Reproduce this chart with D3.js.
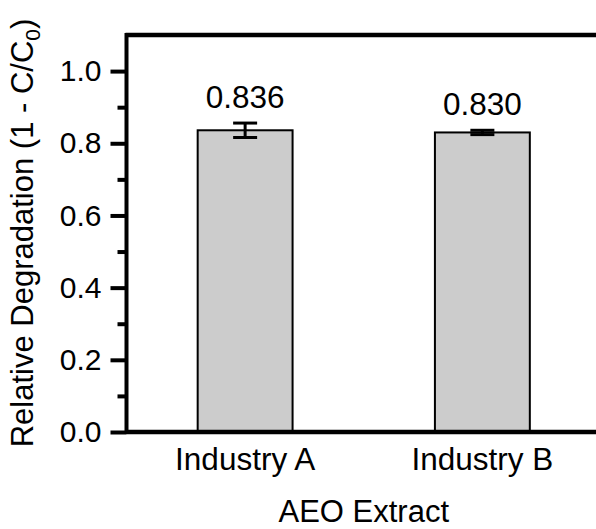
<!DOCTYPE html>
<html><head><meta charset="utf-8">
<script src="https://cdn.jsdelivr.net/npm/d3@7"></script>
<style>body{margin:0;background:#fff}svg{display:block}text{font-family:"Liberation Sans",Arial,sans-serif;fill:#000}</style>
</head><body>
<svg id="c" width="596" height="529"></svg>
<script>
const categories = ["Industry A", "Industry B"];
const values = [0.836, 0.830];
const errors = [0.020, 0.006];
const valueLabels = ["0.836", "0.830"];
const yTicks = [0.0, 0.2, 0.4, 0.6, 0.8, 1.0];
const yMinorTicks = [0.1, 0.3, 0.5, 0.7, 0.9];

const svg = d3.select("#c");
const L = 126.5, R = 601, T = 35, B = 432;
const x = d3.scaleBand().domain(categories).range([L, R]).paddingInner(0.6).paddingOuter(0.3);
const y = d3.scaleLinear().domain([0, 1.1]).range([B, T]);

// bars
svg.selectAll("rect.bar").data(values).join("rect")
  .attr("x", (d,i)=>x(categories[i]))
  .attr("y", d=>y(d))
  .attr("width", x.bandwidth())
  .attr("height", d=>B - y(d))
  .attr("fill", "#cccccc").attr("stroke", "#000").attr("stroke-width", 2);

// error bars
const eg = svg.append("g").attr("stroke", "#000").attr("stroke-width", 3);
values.forEach((v,i)=>{
  const cx = x(categories[i]) + x.bandwidth()/2;
  const e = errors[i];
  eg.append("line").attr("x1",cx).attr("x2",cx).attr("y1",y(v-e)).attr("y2",y(v+e));
  [v-e, v+e].forEach(t=>eg.append("line").attr("x1",cx-12).attr("x2",cx+12).attr("y1",y(t)).attr("y2",y(t)));
  svg.append("text").attr("x",cx).attr("y",y(v+e)-15.5).attr("text-anchor","middle")
    .attr("font-size",31.5).text(valueLabels[i]);
});

// y axis
const yAxis = d3.axisLeft(y).tickValues(yTicks).tickFormat(d3.format(".1f")).tickSize(16).tickPadding(9);
const ga = svg.append("g").attr("transform",`translate(${L},0)`).call(yAxis);
ga.select(".domain").remove();
ga.selectAll(".tick line").attr("stroke","#000").attr("stroke-width",4);
ga.selectAll(".tick text").attr("font-size",30).attr("font-family","Liberation Sans, Arial, sans-serif").attr("fill","#000");
const gm = svg.append("g").attr("transform",`translate(${L},0)`).call(d3.axisLeft(y).tickValues(yMinorTicks).tickSize(9).tickFormat(""));
gm.select(".domain").remove();
gm.selectAll(".tick line").attr("stroke","#000").attr("stroke-width",4);

// x axis
const gx = svg.append("g").attr("transform",`translate(0,${B})`).call(d3.axisBottom(x).tickSize(0).tickPadding(16));
gx.select(".domain").remove();
gx.selectAll(".tick text").attr("font-size",31.5).attr("font-family","Liberation Sans, Arial, sans-serif").attr("fill","#000").attr("dy","0.71em");

// frame lines
svg.append("line").attr("x1",L).attr("x2",R).attr("y1",B).attr("y2",B).attr("stroke","#000").attr("stroke-width",4.5);
svg.append("line").attr("x1",L-1).attr("x2",R).attr("y1",T).attr("y2",T).attr("stroke","#000").attr("stroke-width",4.5);
svg.append("line").attr("x1",L).attr("x2",L).attr("y1",T-2).attr("y2",B+2).attr("stroke","#000").attr("stroke-width",4);

// axis titles
svg.append("text").attr("x",(L+R)/2).attr("y",522).attr("text-anchor","middle").attr("font-size",31).text("AEO Extract");
const yt = svg.append("text").attr("transform","translate(33,233) rotate(-90)").attr("text-anchor","middle").attr("font-size",31);
yt.append("tspan").text("Relative Degradation (1 - C/C");
yt.append("tspan").attr("font-size",21).attr("dy",7).text("0");
yt.append("tspan").attr("dy",-7).text(")");
</script>
</body></html>
